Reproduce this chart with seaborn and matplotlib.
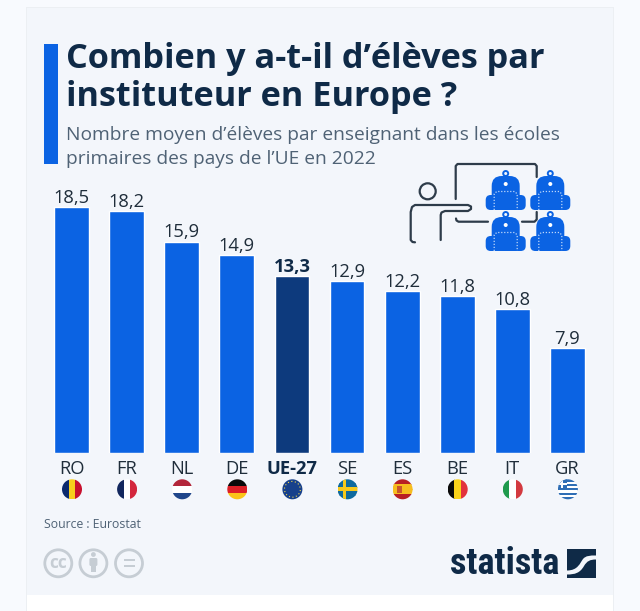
import matplotlib
matplotlib.use("Agg")
import matplotlib.pyplot as plt
from matplotlib.patches import Circle, FancyBboxPatch, Rectangle, PathPatch
from matplotlib.path import Path
import pandas as pd
import seaborn as sns

# data
codes = ["RO", "FR", "NL", "DE", "UE-27", "SE", "ES", "BE", "IT", "GR"]
values = [18.5, 18.2, 15.9, 14.9, 13.3, 12.9, 12.2, 11.8, 10.8, 7.9]
title_lines = ["Combien y a-t-il d’élèves par", "instituteur en Europe ?"]
subtitle_lines = ["Nombre moyen d’élèves par enseignant dans les écoles",
                  "primaires des pays de l’UE en 2022"]

BLUE = "#0b63e3"
DARK_BLUE = "#0d3a7d"
NAVY = "#0f2a47"
GREY_TEXT = "#4f6275"
LABEL = "#1f2d3a"
ICON_GREY = "#c6cdd4"
LINE = "#2e3c4a"
W, H = 640, 611

sns.set_style("white")
plt.rcParams["font.family"] = ["Open Sans", "DejaVu Sans"]

fig = plt.figure(figsize=(W / 100, H / 100), dpi=100, facecolor="#f8fafe")

# overlay in pixel coordinates for the card and decorations
bg = fig.add_axes([0, 0, 1, 1], zorder=0)
bg.set_xlim(0, W)
bg.set_ylim(H, 0)
bg.axis("off")
bg.add_patch(Rectangle((26, 7), 588, 610, fc="#eceff3", ec="none"))
bg.add_patch(Rectangle((27, 8), 586, 603, fc="white", ec="none"))
bg.add_patch(Rectangle((27, 8), 586, 587, fc="#f3f6fb", ec="none"))
bg.add_patch(Rectangle((44, 44), 14, 120, fc=BLUE, ec="none"))

bg.text(66, 59.5, title_lines[0], fontsize=24.7, fontweight="bold", color=NAVY, va="center")
bg.text(66, 97.5, title_lines[1], fontsize=24.7, fontweight="bold", color=NAVY, va="center")
bg.text(66, 135, subtitle_lines[0], fontsize=13.8, color=GREY_TEXT, va="center")
bg.text(66, 158.5, subtitle_lines[1], fontsize=13.8, color=GREY_TEXT, va="center")

# bars
df = pd.DataFrame({"code": codes, "value": values})
ax_left, ax_right, ax_top, ax_bottom = 44.0, 595.0, 186.9, 453.3
ax = fig.add_axes([ax_left / W, 1 - ax_bottom / H, (ax_right - ax_left) / W,
                   (ax_bottom - ax_top) / H], zorder=1)
ax.patch.set_alpha(0)
colors = [DARK_BLUE if c == "UE-27" else BLUE for c in codes]
sns.barplot(data=df, x="code", y="value", hue="code", palette=colors, legend=False,
            width=0.63, saturation=1, ax=ax)
ax.set_xlim(-0.5, 9.5)
ax.set_ylim(0, 20)
ax.set_xlabel("")
ax.set_ylabel("")
ax.set_yticks([])
sns.despine(ax=ax, left=True, bottom=True)
ax.tick_params(axis="x", length=0, pad=4.5, labelsize=13.2, labelcolor=LABEL)
for lab in ax.get_xticklabels():
    if lab.get_text() == "UE-27":
        lab.set_fontweight("bold")
        lab.set_color(NAVY)

for cont, code in zip(ax.containers, codes):
    bold = code == "UE-27"
    ax.bar_label(cont, labels=[f"{v:.1f}".replace(".", ",") for v in cont.datavalues],
                 padding=0.2, fontsize=13.2, color=NAVY if bold else LABEL,
                 fontweight="bold" if bold else "normal")


# flags, circles clipped around stripes
def flag(cx, cy, stripes, vertical=False, r=10):
    clip = Circle((cx, cy), r, transform=bg.transData)
    n = len(stripes)
    patches = []
    for i, col in enumerate(stripes):
        if vertical:
            patches.append(Rectangle((cx - r + 2 * r * i / n, cy - r), 2 * r / n + 0.2, 2 * r, fc=col, ec="none"))
        else:
            patches.append(Rectangle((cx - r, cy - r + 2 * r * i / n), 2 * r, 2 * r / n + 0.2, fc=col, ec="none"))
    for p in patches:
        bg.add_patch(p)
        p.set_clip_path(clip)
    return clip


def centre(i):
    return 72 + 55.1 * i


FY = 489.3
flag(centre(0), FY, ["#0b2a6e", "#f7ce1c", "#c8102e"], vertical=True)
flag(centre(1), FY, ["#12275e", "#ffffff", "#d3263c"], vertical=True)
flag(centre(2), FY, ["#b3263a", "#ffffff", "#21478b"])
flag(centre(3), FY, ["#0a0a0a", "#dd1f26", "#fbc518"])
bg.add_patch(Circle((centre(4), FY), 10, fc="#17408b", ec="none"))
bg.scatter([centre(4)], [FY], s=130, facecolors="none", edgecolors="#f4d84a",
           linewidths=0.8, linestyles=(0, (1, 2.2)), zorder=3)
clip = flag(centre(5), FY, ["#0f6a9e", "#0f6a9e", "#f7c91b", "#0f6a9e", "#0f6a9e"])
for p in [Rectangle((centre(5) - 5, FY - 10), 3.6, 20, fc="#f7c91b", ec="none")]:
    bg.add_patch(p)
    p.set_clip_path(clip)
flag(centre(6), FY, ["#b81f24", "#f6bd1e", "#f6bd1e", "#b81f24"])
bg.add_patch(Rectangle((centre(6) - 6, FY - 3.5), 5, 7, fc="#c9552c", ec="none"))
flag(centre(7), FY, ["#0a0a0a", "#f9d21a", "#e2323c"], vertical=True)
flag(centre(8), FY, ["#1f9a4d", "#ffffff", "#d3393f"], vertical=True)
clip = flag(centre(9), FY, ["#2f6eb5", "#ffffff"] * 4 + ["#2f6eb5"])
p = Rectangle((centre(9) - 10, FY - 10), 9, 9, fc="#2f6eb5", ec="none")
bg.add_patch(p)
p.set_clip_path(clip)
for p in [Rectangle((centre(9) - 6.5, FY - 10), 2, 9, fc="white", ec="none"),
          Rectangle((centre(9) - 10, FY - 6.5), 9, 2, fc="white", ec="none")]:
    bg.add_patch(p)
    p.set_clip_path(clip)

# source and licence icons
bg.text(44, 524, "Source : Eurostat", fontsize=8.8, color=GREY_TEXT, va="center")
for cx in (58.3, 93.4, 129):
    bg.add_patch(Circle((cx, 563.3), 13.5, fc="none", ec=ICON_GREY, lw=2))
bg.text(58.3, 562.5, "cc", fontsize=12.5, fontweight="bold", color=ICON_GREY, ha="center", va="center")
bg.add_patch(Circle((93.4, 554.5), 2.4, fc=ICON_GREY, ec="none"))
bg.add_patch(FancyBboxPatch((89.4, 558), 8, 8, boxstyle="round,pad=0,rounding_size=1.5", fc=ICON_GREY, ec="none"))
bg.add_patch(Rectangle((90.9, 564), 5, 8, fc=ICON_GREY, ec="none"))
bg.add_patch(Rectangle((123.5, 558.5), 11, 2.6, fc=ICON_GREY, ec="none"))
bg.add_patch(Rectangle((123.5, 564.5), 11, 2.6, fc=ICON_GREY, ec="none"))

# statista logo
bg.text(559, 564, "statista", fontsize=26, fontweight="bold", color=NAVY, ha="right", va="center",
        family=["Liberation Sans Narrow", "Roboto Condensed", "Roboto"])
bg.add_patch(Rectangle((567, 549), 29, 29, fc=NAVY, ec="none"))
swoosh = Path([(567, 570.5), (578, 570.5), (580, 563), (583, 559), (586, 555.5), (590, 555.5), (596, 555.5),
               (596, 559.5), (590, 559.5), (587, 561), (584, 566), (580, 573), (575, 574.5), (567, 574.5), (567, 570.5)],
              [Path.MOVETO, Path.CURVE4, Path.CURVE4, Path.CURVE4, Path.CURVE4, Path.CURVE4, Path.CURVE4,
               Path.LINETO, Path.CURVE4, Path.CURVE4, Path.CURVE4, Path.CURVE4, Path.CURVE4, Path.CURVE4, Path.LINETO])
bg.add_patch(PathPatch(swoosh, fc="#f3f6fb", ec="none"))


# teacher pictogram
def stroke(xs, ys):
    bg.plot(xs, ys, color=LINE, lw=1.6, solid_capstyle="round", solid_joinstyle="round")


stroke([455.7, 455.7, 457.5, 535, 536.7, 536.7], [199, 166, 164, 164, 166, 177])
stroke([456, 456.5, 458.5, 488], [218.5, 220.5, 221.7, 221.7])
stroke([522, 534.5, 536.7, 536.7], [221.7, 221.7, 219.5, 212])
stroke([415, 412.5, 410.7, 410.7, 412, 415, 468, 471, 471, 468, 445, 441.5, 440.7, 440.7],
       [242.3, 242, 240, 212, 207, 205, 205, 206.5, 209, 211, 211, 212.5, 215, 240])
bg.add_patch(Circle((427.7, 191.3), 8, fc="none", ec=LINE, lw=1.6))


def backpack(cx, cy):
    bg.add_patch(Circle((cx, cy - 19.5), 2.5, fc="none", ec=BLUE, lw=1.4))
    bg.add_patch(FancyBboxPatch((cx - 20, cy + 2), 40, 15, boxstyle="round,pad=0,rounding_size=5", fc=BLUE, ec="none"))
    bg.add_patch(FancyBboxPatch((cx - 14, cy - 17), 28, 34, boxstyle="round,pad=0,rounding_size=10", fc=BLUE, ec="none"))
    bg.add_patch(Rectangle((cx - 14, cy + 10), 28, 7, fc=BLUE, ec="none"))
    bg.add_patch(Circle((cx, cy - 9), 2, fc="white", ec="none"))
    bg.plot([cx - 11.5, cx - 11.5, cx - 9, cx + 9, cx + 11.5, cx + 11.5],
            [cy + 17, cy + 1, cy - 1.5, cy - 1.5, cy + 1, cy + 17],
            color="#bcd6fa", lw=0.9, ls=(0, (1, 1.4)))


for cx, cy in [(505.7, 193), (550.3, 193), (505.7, 234), (550.3, 234)]:
    backpack(cx, cy)

fig.savefig("out.png", dpi=100, facecolor=fig.get_facecolor())
